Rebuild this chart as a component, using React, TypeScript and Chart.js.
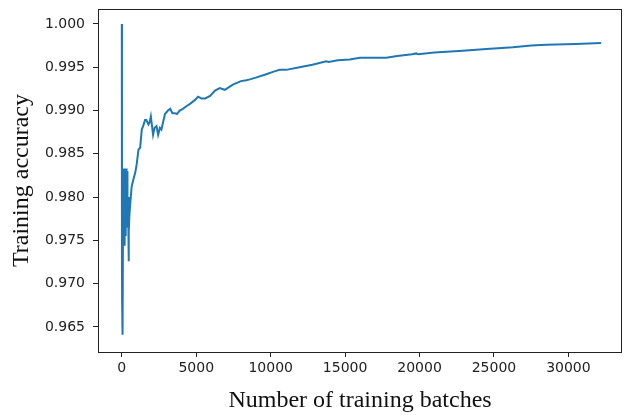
import React, { useEffect, useRef } from "react";
import { Chart, registerables } from "chart.js";

Chart.register(...registerables);

const batches: number[] = [
  0, 10, 20, 40, 60, 80, 100, 120, 140, 160, 180, 200, 230, 260, 290, 320, 350, 380, 420, 450,
  480, 520, 580, 660, 800, 900, 1000, 1120, 1230, 1340, 1430, 1560, 1650, 1790, 1880, 1950,
  2100, 2200, 2330, 2440, 2560, 2660, 2900, 3100, 3250, 3400, 3560, 3700, 3890, 4100, 4340,
  4600, 4900, 5120, 5350, 5600, 5930, 6260, 6580, 6920, 7460, 8000, 8370, 8600, 9000, 9700,
  10200, 10600, 11040, 11940, 12800, 13730, 13900, 14500, 15300, 16000, 17000, 17760, 18500,
  19500, 19780, 19900, 21000, 22900, 24500, 26260, 27500, 28500, 30500, 32200,
];

const accuracy: number[] = [
  1.0, 0.9715, 0.968, 0.9752, 0.9641, 0.977, 0.9833, 0.976, 0.981, 0.9745, 0.9833, 0.977,
  0.982, 0.9755, 0.9833, 0.979, 0.983, 0.9765, 0.98, 0.9726, 0.976, 0.9782, 0.9795, 0.9812,
  0.9822, 0.9828, 0.9838, 0.9855, 0.9857, 0.9878, 0.9882, 0.9889, 0.9889, 0.9884, 0.9887,
  0.9893, 0.9872, 0.988, 0.9882, 0.9872, 0.988, 0.9878, 0.9896, 0.99, 0.9902, 0.9897, 0.9897,
  0.9896, 0.99, 0.9902, 0.9905, 0.9908, 0.9912, 0.9916, 0.9914, 0.9914, 0.9917, 0.9923,
  0.9926, 0.9924, 0.993, 0.9934, 0.9935, 0.9936, 0.9938, 0.9942, 0.9945, 0.9947, 0.9947,
  0.995, 0.9953, 0.9957, 0.9956, 0.9958, 0.9959, 0.9961, 0.9961, 0.9961, 0.9963, 0.9965,
  0.9966, 0.9965, 0.9967, 0.9969, 0.9971, 0.9973, 0.9975, 0.9976, 0.9977, 0.9978,
];

const xTicks: number[] = [0, 5000, 10000, 15000, 20000, 25000, 30000];
const yTicks: number[] = [0.965, 0.97, 0.975, 0.98, 0.985, 0.99, 0.995, 1.0];

const frame = {
  id: "frame",
  afterDraw(chart: any) {
    const { ctx, chartArea } = chart;
    ctx.save();
    ctx.strokeStyle = "#222";
    ctx.lineWidth = 1;
    ctx.strokeRect(
      Math.round(chartArea.left) + 0.5,
      Math.round(chartArea.top) + 0.5,
      Math.round(chartArea.right - chartArea.left) - 1,
      Math.round(chartArea.bottom - chartArea.top)
    );
    ctx.restore();
  },
};

export default function App() {
  const ref = useRef<HTMLCanvasElement | null>(null);
  useEffect(() => {
    document.body.style.margin = "0";
    const tickFont = { family: "'DejaVu Sans', sans-serif", size: 14 };
    const titleFont = { family: "'Liberation Serif', 'Times New Roman', serif", size: 24 };
    const chart = new Chart(ref.current as HTMLCanvasElement, {
      type: "line",
      data: {
        datasets: [
          {
            data: batches.map((b, i) => ({ x: b, y: accuracy[i] })),
            borderColor: "#1f77b4",
            borderWidth: 2,
            pointRadius: 0,
            tension: 0,
            fill: false,
          },
        ],
      },
      plugins: [frame],
      options: {
        animation: false,
        responsive: true,
        maintainAspectRatio: false,
        layout: { padding: { top: 9, right: 3, left: 0, bottom: 0 } },
        plugins: { legend: { display: false }, tooltip: { enabled: false } },
        scales: {
          x: {
            type: "linear",
            min: -1600,
            max: 33600,
            afterBuildTicks: (s: any) => {
              s.ticks = xTicks.map((v) => ({ value: v }));
            },
            afterFit: (s: any) => {
              s.height = 63;
              s.paddingLeft = 0;
              s.paddingRight = 0;
            },
            ticks: {
              font: tickFont,
              color: "#222",
              padding: 3,
              maxRotation: 0,
              autoSkip: false,
              callback: (v: any) => String(v),
            },
            grid: { drawOnChartArea: false, drawTicks: true, tickLength: 5, color: "#222" },
            border: { display: false },
            title: {
              display: true,
              text: "Number of training batches",
              font: titleFont,
              color: "#111",
              padding: { top: 0, bottom: 0 },
            },
          },
          y: {
            type: "linear",
            min: 0.96211,
            max: 1.00173,
            afterBuildTicks: (s: any) => {
              s.ticks = yTicks.map((v) => ({ value: v }));
            },
            afterFit: (s: any) => {
              s.width = 98;
              s.paddingTop = 0;
              s.paddingBottom = 0;
            },
            ticks: {
              font: tickFont,
              color: "#222",
              padding: 8,
              autoSkip: false,
              callback: (v: any) => Number(v).toFixed(3),
            },
            grid: { drawOnChartArea: false, drawTicks: true, tickLength: 5, color: "#222" },
            border: { display: false },
            title: {
              display: true,
              text: "Training accuracy",
              font: titleFont,
              color: "#111",
              padding: { top: 7, bottom: 0 },
            },
          },
        },
      },
    });
    return () => chart.destroy();
  }, []);
  return (
    <div style={{ width: 625, height: 415, position: "relative" }}>
      <canvas ref={ref} />
    </div>
  );
}
